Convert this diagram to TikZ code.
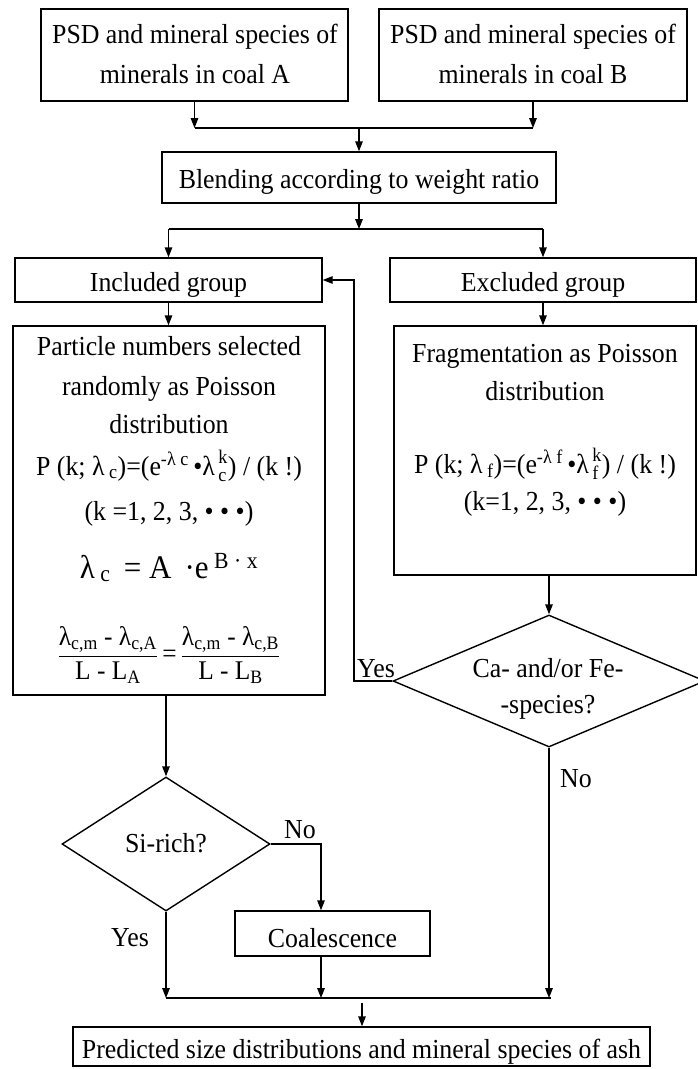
\documentclass[tikz,border=0pt]{standalone}
\usepackage{fontspec}
\setmainfont{Liberation Serif}[FakeStretch=0.94]
\usepackage{amsmath}
\usetikzlibrary{arrows.meta,shapes.geometric}
\begin{document}
\begin{tikzpicture}[x=1pt,y=-1pt,line width=1.4pt,
 box/.style={draw,rectangle,inner sep=0pt},
 dia/.style={draw,diamond,inner sep=0pt},
 t/.style={inner sep=0pt,anchor=base,font=\fontsize{27.5}{33}\selectfont},
 tb/.style={inner sep=0pt,anchor=base,font=\fontsize{33}{40}\selectfont},
 tf/.style={inner sep=0pt,font=\fontsize{27}{32}\selectfont},
 arr/.style={-{Triangle[length=10pt,width=7.5pt]}}]
\useasboundingbox (0,0) rectangle (697,1069);
% boxes
\node[box,minimum width=307pt,minimum height=92pt] (A) at (194.5,55) {};
\node[box,minimum width=308pt,minimum height=92pt] (B) at (533,55) {};
\node[box,minimum width=394pt,minimum height=51pt] (Bl) at (359,177.5) {};
\node[box,minimum width=307pt,minimum height=44pt] (In) at (168.5,280) {};
\node[box,minimum width=306pt,minimum height=44pt] (Ex) at (543,280) {};
\node[box,minimum width=312pt,minimum height=369pt] (Pa) at (169,510.5) {};
\node[box,minimum width=302pt,minimum height=249pt] (Fr) at (545,450.5) {};
\node[dia,minimum width=312pt,minimum height=132pt] (Ca) at (549,681) {};
\node[dia,minimum width=208pt,minimum height=134pt] (Si) at (166,844) {};
\node[box,minimum width=195pt,minimum height=45pt] (Co) at (332.5,933.5) {};
\node[box,minimum width=577pt,minimum height=39pt] (Bo) at (361.5,1046.5) {};
% texts
\node[t] (At1) at (195,43) {PSD and mineral species of};
\node[t] (At2) at (195,83) {minerals in coal A};
\node[t] (Bt1) at (533,43) {PSD and mineral species of};
\node[t] (Bt2) at (533,83) {minerals in coal B};
\node[t] (Blt) at (359,188) {Blending according to weight ratio};
\node[t] (Int) at (168.5,291) {Included group};
\node[t] (Ext) at (543,291) {Excluded group};
\node[t] (Pa1) at (169,355) {Particle numbers selected};
\node[t] (Pa2) at (169,395) {randomly as Poisson};
\node[t] (Pa3) at (169,433) {distribution};
\node[t] (Pa4) at (169,475) {P (k; λ\textsubscript{ c})=(e\textsuperscript{-λ c }•$\text{λ}_{\,\text{c}}^{\,\text{k}}$) / (k !)};
\node[t] (Pa5) at (169,520) {(k =1, 2, 3, • • •)};
\node[tb] (Pa6) at (169,578) {λ\textsubscript{ c}\, = A\, ·e\textsuperscript{ B · x}};
\node[tf] (Pa7) at (169,655) {$\dfrac{\text{λ}_{\text{c,m}}\text{ - λ}_{\text{c,A}}}{\text{L - L}_{\text{A}}}\,\text{=}\,\dfrac{\text{λ}_{\text{c,m}}\text{ - λ}_{\text{c,B}}}{\text{L - L}_{\text{B}}}$};
\node[t] (Fr1) at (545,362) {Fragmentation as Poisson};
\node[t] (Fr2) at (545,400) {distribution};
\node[t] (Fr3) at (545,473) {P (k; λ\textsubscript{ f})=(e\textsuperscript{-λ f }•$\text{λ}_{\,\text{f}}^{\,\text{k}}$) / (k !)};
\node[t] (Fr4) at (545,510) {(k=1, 2, 3, • • •)};
\node[t] (Ca1) at (548,677) {Ca- and/or Fe-};
\node[t] (Ca2) at (548,713) {-species?};
\node[t] (Sit) at (166,852) {Si-rich?};
\node[t] (Cot) at (332.5,947) {Coalescence};
\node[t] (Bot) at (361.5,1058) {Predicted size distributions and mineral species of ash};
\node[t] (yes1) at (376,677) {Yes};
\node[t] (no1) at (576,787) {No};
\node[t] (no2) at (300,838) {No};
\node[t] (yes2) at (130,946) {Yes};
% connectors
\coordinate (m1) at (358,128);
\coordinate (m2) at (358,229);
\coordinate (m3) at (358,998);
\coordinate (m4) at (362,1003);
\coordinate (yb) at (354,0);
\coordinate (cx) at (321,0);
\draw[arr] (A.south) -- (A.south |- m1);
\draw[arr] (B.south) -- (B.south |- m1);
\draw (A.south |- m1) -- (B.south |- m1);
\draw[arr] (Bl.north |- m1) -- (Bl.north);
\draw[arr] (Bl.south) -- (Bl.south |- m2);
\draw (In.north |- m2) -- (Ex.north |- m2);
\draw[arr] (In.north |- m2) -- (In.north);
\draw[arr] (Ex.north |- m2) -- (Ex.north);
\draw[arr] (In.south) -- (In.south |- Pa.north);
\draw[arr] (Ex.south) -- (Ex.south |- Fr.north);
\draw[arr] (Ca.north |- Fr.south) -- (Ca.north);
\draw[arr] (Ca.west) -- (Ca.west -| yb) -- (yb |- In.east) -- (In.east);
\draw[arr] (Ca.south) -- (Ca.south |- m3);
\draw[arr] (Si.north |- Pa.south) -- (Si.north);
\draw[arr] (Si.east) -- (Si.east -| cx) -- (cx |- Co.north);
\draw[arr] (cx |- Co.south) -- (cx |- m3);
\draw[arr] (Si.south) -- (Si.south |- m3);
\draw (Si.south |- m3) -- ([xshift=2pt]Ca.south |- m3);
\draw[arr] (m4) -- (m4 |- Bo.north);
\end{tikzpicture}
\end{document}
